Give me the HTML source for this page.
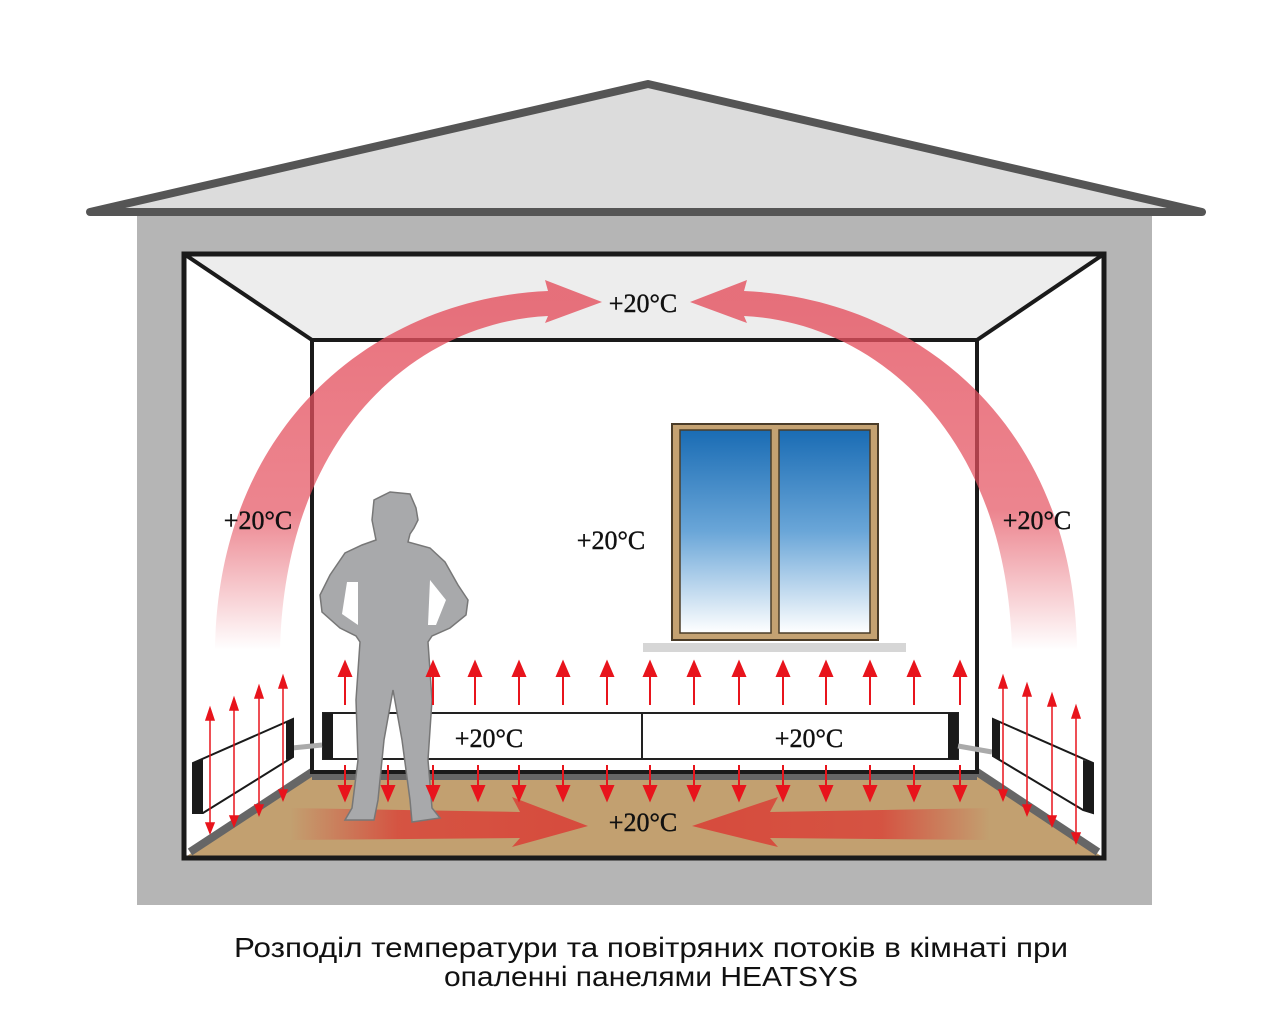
<!DOCTYPE html>
<html><head><meta charset="utf-8"><style>
html,body{margin:0;padding:0;background:#fff;width:1280px;height:1024px;overflow:hidden}
svg{display:block}
.t{font-family:"Liberation Serif",serif;font-size:26px;fill:#111;text-anchor:middle;stroke:#111;stroke-width:0.4}
.c{font-family:"Liberation Sans",sans-serif;font-size:28px;fill:#111;text-anchor:middle}
</style></head><body>
<svg width="1280" height="1024" viewBox="0 0 1280 1024" xmlns="http://www.w3.org/2000/svg">
<defs>
<linearGradient id="arcg" x1="0" y1="300" x2="0" y2="650" gradientUnits="userSpaceOnUse">
<stop offset="0" stop-color="#e4505e" stop-opacity="0.8"/>
<stop offset="0.6" stop-color="#e4505e" stop-opacity="0.7"/>
<stop offset="1" stop-color="#e4505e" stop-opacity="0"/>
</linearGradient>
<linearGradient id="flL" x1="290" y1="0" x2="600" y2="0" gradientUnits="userSpaceOnUse">
<stop offset="0" stop-color="#d8463a" stop-opacity="0"/>
<stop offset="0.35" stop-color="#d8463a" stop-opacity="0.85"/>
<stop offset="1" stop-color="#d8463a" stop-opacity="0.95"/>
</linearGradient>
<linearGradient id="flR" x1="990" y1="0" x2="680" y2="0" gradientUnits="userSpaceOnUse">
<stop offset="0" stop-color="#d8463a" stop-opacity="0"/>
<stop offset="0.35" stop-color="#d8463a" stop-opacity="0.85"/>
<stop offset="1" stop-color="#d8463a" stop-opacity="0.95"/>
</linearGradient>
<linearGradient id="sky" x1="0" y1="0" x2="0" y2="1">
<stop offset="0" stop-color="#1a6cb4"/>
<stop offset="0.5" stop-color="#6aa6d8"/>
<stop offset="1" stop-color="#ffffff"/>
</linearGradient>
</defs>
<polygon points="90,212 648,84 1202,212" fill="#dcdcdc" stroke="#555" stroke-width="8" stroke-linejoin="round"/>
<rect x="137" y="216" width="1015" height="689" fill="#b5b5b5"/>
<rect x="184" y="254" width="920" height="604" fill="#fff"/>
<polygon points="184,254 1104,254 977,340 312,340" fill="#ededed"/>
<polygon points="184,858 1104,858 977,772 312,772" fill="#c2a070"/>
<polygon points="312,772 977,772 977,780 312,780" fill="#666"/>
<polyline points="190,852 312,772" stroke="#666" stroke-width="8" fill="none"/>
<polyline points="1098,852 977,772" stroke="#666" stroke-width="8" fill="none"/>
<g stroke="#1a1a1a" stroke-width="4" fill="none">
<line x1="184" y1="254" x2="312" y2="340"/>
<line x1="1104" y1="254" x2="977" y2="340"/>
<rect x="312" y="340" width="665" height="432"/>
</g>
<rect x="184" y="254" width="920" height="604" fill="none" stroke="#1a1a1a" stroke-width="5"/>
<rect x="643" y="643" width="263" height="9" fill="#d6d6d6"/>
<rect x="672" y="424" width="206" height="216" fill="#c4a272" stroke="#4a3c28" stroke-width="2"/>
<rect x="680" y="430" width="91" height="203" fill="url(#sky)" stroke="#4a3c28" stroke-width="1.5"/>
<rect x="779" y="430" width="91" height="203" fill="url(#sky)" stroke="#4a3c28" stroke-width="1.5"/>
<path d="M215 650 C218 420 380 298 548 291 L545 280 L602 302 L545 323 L548 316 C420 322 285 430 280 650 Z" fill="url(#arcg)"/>
<path d="M1077 650 C1074 420 912 298 744 291 L747 280 L690 302 L747 323 L744 316 C872 322 1007 430 1012 650 Z" fill="url(#arcg)"/>
<path d="M290 808 L520 812 L512 797 L588 826 L512 847 L520 838 L290 840 Z" fill="url(#flL)"/>
<path d="M990 808 L770 812 L778 797 L692 826 L778 847 L770 838 L990 840 Z" fill="url(#flR)"/>
<rect x="323" y="713" width="635" height="46" fill="#fff" stroke="#222" stroke-width="2"/>
<line x1="642" y1="713" x2="642" y2="759" stroke="#222" stroke-width="2"/>
<rect x="323" y="713" width="10" height="46" fill="#1a1a1a"/>
<rect x="948" y="713" width="10" height="46" fill="#1a1a1a"/>
<path d="M292 748 L322 745" stroke="#aaa" stroke-width="5"/>
<path d="M958 746 L992 752" stroke="#aaa" stroke-width="5"/>
<polygon points="193,763 293,719 293,757 203,813 193,813" fill="#fff" stroke="#1a1a1a" stroke-width="2"/>
<polygon points="193,763 203,758 203,813 193,813" fill="#1a1a1a"/>
<polygon points="286,722 293,719 293,757 286,760" fill="#1a1a1a"/>
<polygon points="993,719 1093,763 1093,813 1083,810 993,756" fill="#fff" stroke="#1a1a1a" stroke-width="2"/>
<polygon points="993,719 1000,722 1000,760 993,756" fill="#1a1a1a"/>
<polygon points="1083,760 1093,763 1093,813 1083,810" fill="#1a1a1a"/>
<path d="M390 492 L410 494 L416 508 L418 520 L414 528 L410 534 L408 542 L430 548 L445 562 L458 585 L468 600 L466 615 L450 628 L432 636 L428 642 L432 700 L428 760 L432 808 L440 818 L412 822 L410 800 L402 740 L393 690 L384 740 L378 800 L374 820 L345 820 L352 808 L358 760 L356 700 L360 642 L356 636 L340 628 L322 612 L320 595 L330 575 L345 553 L362 545 L376 540 L372 520 L374 500 Z" fill="#a8a9ab" stroke="#777" stroke-width="1.5"/>
<polygon points="347,582 358,582 358,625 342,614" fill="#fff"/>
<polygon points="430,580 446,600 436,625 428,625" fill="#fff"/>
<g stroke="#e8141c" stroke-width="2" fill="#e8141c">
<line x1="345" y1="676" x2="345" y2="705"/><polygon points="339,676 345,662 351,676"/>
<line x1="433" y1="676" x2="433" y2="705"/><polygon points="427,676 433,662 439,676"/>
<line x1="475" y1="676" x2="475" y2="705"/><polygon points="469,676 475,662 481,676"/>
<line x1="519" y1="676" x2="519" y2="705"/><polygon points="513,676 519,662 525,676"/>
<line x1="563" y1="676" x2="563" y2="705"/><polygon points="557,676 563,662 569,676"/>
<line x1="607" y1="676" x2="607" y2="705"/><polygon points="601,676 607,662 613,676"/>
<line x1="650" y1="676" x2="650" y2="705"/><polygon points="644,676 650,662 656,676"/>
<line x1="694" y1="676" x2="694" y2="705"/><polygon points="688,676 694,662 700,676"/>
<line x1="739" y1="676" x2="739" y2="705"/><polygon points="733,676 739,662 745,676"/>
<line x1="783" y1="676" x2="783" y2="705"/><polygon points="777,676 783,662 789,676"/>
<line x1="826" y1="676" x2="826" y2="705"/><polygon points="820,676 826,662 832,676"/>
<line x1="870" y1="676" x2="870" y2="705"/><polygon points="864,676 870,662 876,676"/>
<line x1="914" y1="676" x2="914" y2="705"/><polygon points="908,676 914,662 920,676"/>
<line x1="960" y1="676" x2="960" y2="705"/><polygon points="954,676 960,662 966,676"/>
<line x1="345" y1="765" x2="345" y2="788"/><polygon points="339,786 345,800 351,786"/>
<line x1="388" y1="765" x2="388" y2="788"/><polygon points="382,786 388,800 394,786"/>
<line x1="433" y1="765" x2="433" y2="788"/><polygon points="427,786 433,800 439,786"/>
<line x1="478" y1="765" x2="478" y2="788"/><polygon points="472,786 478,800 484,786"/>
<line x1="519" y1="765" x2="519" y2="788"/><polygon points="513,786 519,800 525,786"/>
<line x1="563" y1="765" x2="563" y2="788"/><polygon points="557,786 563,800 569,786"/>
<line x1="607" y1="765" x2="607" y2="788"/><polygon points="601,786 607,800 613,786"/>
<line x1="650" y1="765" x2="650" y2="788"/><polygon points="644,786 650,800 656,786"/>
<line x1="694" y1="765" x2="694" y2="788"/><polygon points="688,786 694,800 700,786"/>
<line x1="739" y1="765" x2="739" y2="788"/><polygon points="733,786 739,800 745,786"/>
<line x1="783" y1="765" x2="783" y2="788"/><polygon points="777,786 783,800 789,786"/>
<line x1="826" y1="765" x2="826" y2="788"/><polygon points="820,786 826,800 832,786"/>
<line x1="870" y1="765" x2="870" y2="788"/><polygon points="864,786 870,800 876,786"/>
<line x1="914" y1="765" x2="914" y2="788"/><polygon points="908,786 914,800 920,786"/>
<line x1="960" y1="765" x2="960" y2="788"/><polygon points="954,786 960,800 966,786"/>
</g>
<g stroke="#e8141c" stroke-width="1.5" fill="#e8141c">
<line x1="210" y1="720" x2="210" y2="833"/><polygon points="206,720 210,708 214,720"/><polygon points="206,823 210,833 214,823"/>
<line x1="234" y1="710" x2="234" y2="826"/><polygon points="230,710 234,698 238,710"/><polygon points="230,816 234,826 238,816"/>
<line x1="259" y1="698" x2="259" y2="815"/><polygon points="255,698 259,686 263,698"/><polygon points="255,805 259,815 263,805"/>
<line x1="283" y1="688" x2="283" y2="800"/><polygon points="279,688 283,676 287,688"/><polygon points="279,790 283,800 287,790"/>
<line x1="1003" y1="688" x2="1003" y2="800"/><polygon points="999,688 1003,676 1007,688"/><polygon points="999,790 1003,800 1007,790"/>
<line x1="1027" y1="696" x2="1027" y2="815"/><polygon points="1023,696 1027,684 1031,696"/><polygon points="1023,805 1027,815 1031,805"/>
<line x1="1052" y1="706" x2="1052" y2="826"/><polygon points="1048,706 1052,694 1056,706"/><polygon points="1048,816 1052,826 1056,816"/>
<line x1="1076" y1="718" x2="1076" y2="843"/><polygon points="1072,718 1076,706 1080,718"/><polygon points="1072,833 1076,843 1080,833"/>
</g>
<text class="t" x="643" y="312">+20°C</text>
<text class="t" x="258" y="529">+20°C</text>
<text class="t" x="1037" y="529">+20°C</text>
<text class="t" x="611" y="549">+20°C</text>
<text class="t" x="489" y="747">+20°C</text>
<text class="t" x="809" y="747">+20°C</text>
<text class="t" x="643" y="831">+20°C</text>
<text class="c" x="651" y="957" textLength="834" lengthAdjust="spacingAndGlyphs">Розподіл температури та повітряних потоків в кімнаті при</text>
<text class="c" x="651" y="986" textLength="414" lengthAdjust="spacingAndGlyphs">опаленні панелями HEATSYS</text>
</svg>
</body></html>
